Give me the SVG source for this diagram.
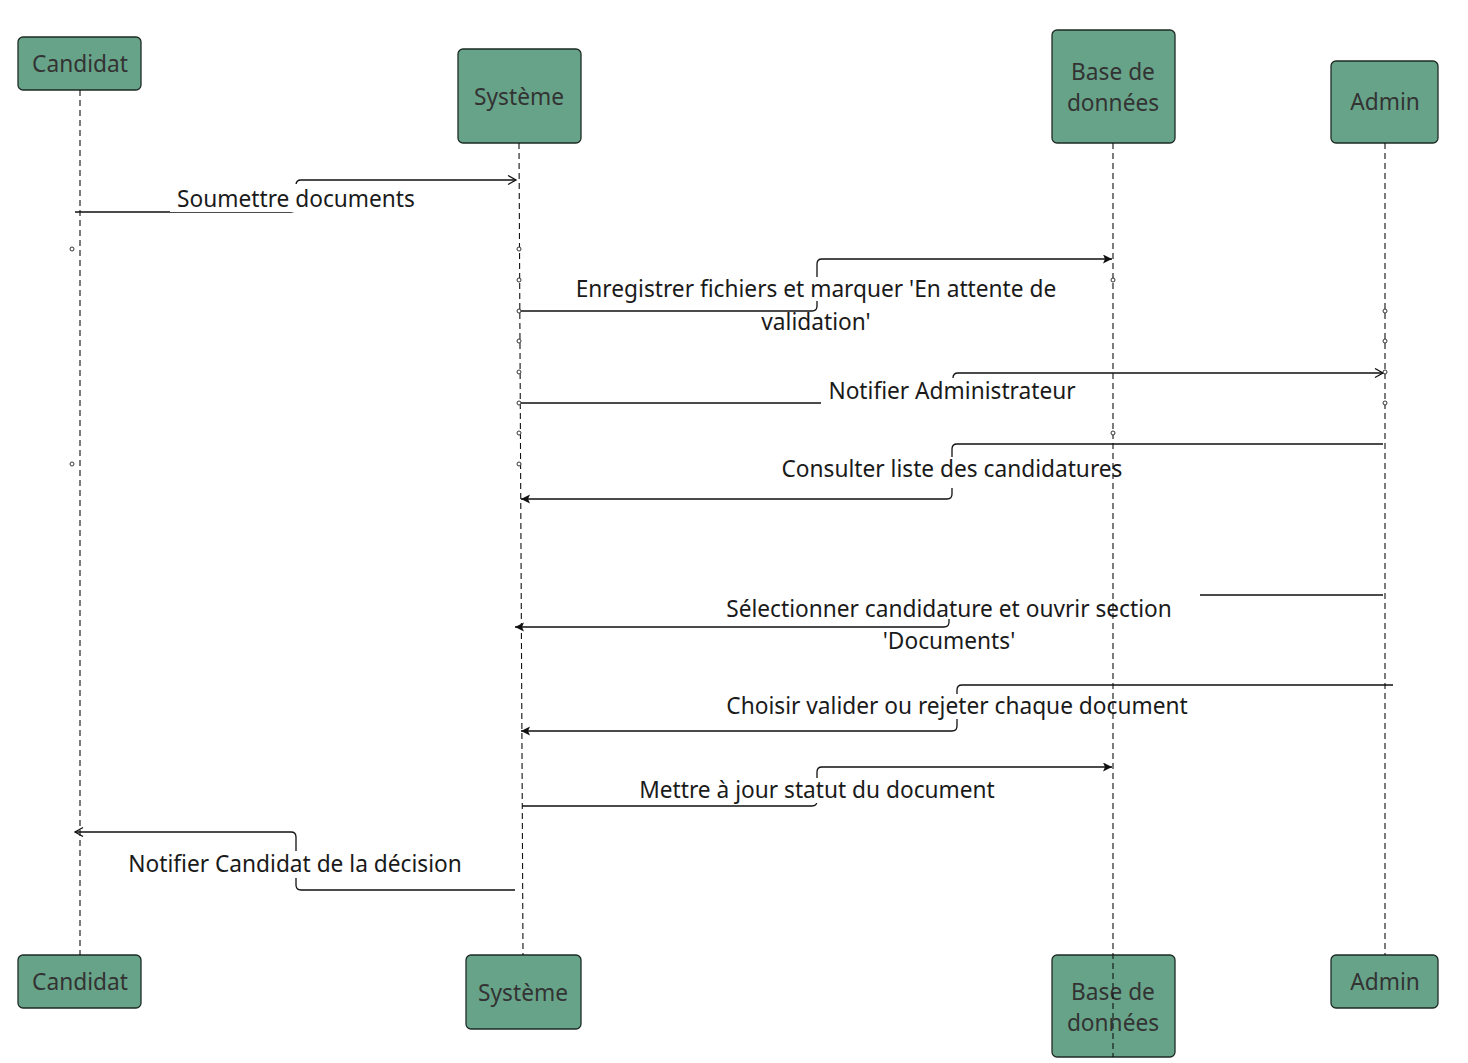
<svg xmlns="http://www.w3.org/2000/svg" width="1468" height="1063" viewBox="0 0 1468 1063">
  <style>
    .box { fill: #67a389; stroke: #1e2b25; stroke-width: 1.3; }
    .ntxt { font-family: "Noto Sans", "Open Sans", sans-serif; font-size: 22.7px; fill: #333333; text-anchor: middle; dominant-baseline: central; }
    .ltxt { font-family: "Noto Sans", "Open Sans", sans-serif; font-size: 22.7px; fill: #1a1a1a; text-anchor: middle; dominant-baseline: central; }
    .msg { fill: none; stroke: #111111; stroke-width: 1.3; }
    .lbg { fill: #ffffff; }
    .life { fill: none; stroke: #111111; stroke-width: 1.1; stroke-dasharray: 6 4; }
    .dot { fill: #ffffff; stroke: #333333; stroke-width: 1; }
  </style>
  <defs>
    <marker id="open" markerUnits="userSpaceOnUse" markerWidth="11" markerHeight="11" refX="9" refY="5" orient="auto">
      <path d="M1,0.5 L9,5 L1,9.5" fill="none" stroke="#111111" stroke-width="1.3"/>
    </marker>
    <marker id="filled" markerUnits="userSpaceOnUse" markerWidth="11" markerHeight="11" refX="9" refY="4.5" orient="auto">
      <path d="M0,0 L9,4.5 L0,9 L2,4.5 z" fill="#111111"/>
    </marker>
  </defs>

  <!-- messages -->
  <g id="connectors">
    <path class="msg" d="M75,212 H291 Q296,212 296,207 V185 Q296,180 301,180 H516" marker-end="url(#open)"/>
    <path class="msg" d="M519,311 H812 Q817,311 817,306 V264 Q817,259 822,259 H1112" marker-end="url(#filled)"/>
    <path class="msg" d="M519,403 H948 Q953,403 953,398 V378 Q953,373 958,373 H1383" marker-end="url(#open)"/>
    <path class="msg" d="M1383,444 H957 Q952,444 952,449 V494 Q952,499 947,499 H521" marker-end="url(#filled)"/>
    <path class="msg" d="M1383,595 H954 Q949,595 949,600 V622 Q949,627 944,627 H515" marker-end="url(#filled)"/>
    <path class="msg" d="M1393,685 H962 Q957,685 957,690 V726 Q957,731 952,731 H521" marker-end="url(#filled)"/>
    <path class="msg" d="M522,806 H812 Q817,806 817,801 V772 Q817,767 822,767 H1112" marker-end="url(#filled)"/>
    <path class="msg" d="M515,890 H301 Q296,890 296,885 V837 Q296,832 291,832 H75" marker-end="url(#open)"/>
  </g>

  <!-- message labels -->
  <g id="labels">
    <rect class="lbg" x="170" y="184" width="250" height="28"/>
    <text class="ltxt" x="296" y="198">Soumettre documents</text>

    <rect class="lbg" x="570" y="277" width="493" height="24"/>
    <text class="ltxt" x="816" y="288">Enregistrer fichiers et marquer 'En attente de</text>
    <text class="ltxt" x="816" y="321">validation'</text>

    <rect class="lbg" x="821" y="378" width="260" height="26"/>
    <text class="ltxt" x="952" y="390">Notifier Administrateur</text>

    <rect class="lbg" x="776" y="457" width="352" height="31"/>
    <text class="ltxt" x="952" y="468">Consulter liste des candidatures</text>

    <rect class="lbg" x="720" y="594" width="480" height="25"/>
    <text class="ltxt" x="949" y="608">Sélectionner candidature et ouvrir section</text>
    <text class="ltxt" x="949" y="640">'Documents'</text>

    <rect class="lbg" x="720" y="694" width="474" height="25"/>
    <text class="ltxt" x="957" y="705">Choisir valider ou rejeter chaque document</text>

    <rect class="lbg" x="634" y="778" width="366" height="25"/>
    <text class="ltxt" x="817" y="789">Mettre à jour statut du document</text>

    <rect class="lbg" x="123" y="851" width="344" height="27"/>
    <text class="ltxt" x="295" y="863">Notifier Candidat de la décision</text>
  </g>

  <!-- participants -->
  <g id="candidat-top">
    <rect class="box" x="18" y="37" width="123" height="53" rx="5"/>
    <text class="ntxt" x="80" y="63">Candidat</text>
  </g>
  <g id="systeme-top">
    <rect class="box" x="458" y="49" width="123" height="94" rx="5"/>
    <text class="ntxt" x="519" y="96">Système</text>
  </g>
  <g id="bdd-top">
    <rect class="box" x="1052" y="30" width="123" height="113" rx="5"/>
    <text class="ntxt" x="1113" y="71">Base de</text>
    <text class="ntxt" x="1113" y="102">données</text>
  </g>
  <g id="admin-top">
    <rect class="box" x="1331" y="61" width="107" height="82" rx="5"/>
    <text class="ntxt" x="1385" y="101">Admin</text>
  </g>

  <g id="candidat-bottom">
    <rect class="box" x="18" y="955" width="123" height="53" rx="5"/>
    <text class="ntxt" x="80" y="981">Candidat</text>
  </g>
  <g id="systeme-bottom">
    <rect class="box" x="466" y="955" width="115" height="74" rx="5"/>
    <text class="ntxt" x="523" y="992">Système</text>
  </g>
  <g id="bdd-bottom">
    <rect class="box" x="1052" y="955" width="123" height="102" rx="5"/>
    <text class="ntxt" x="1113" y="991">Base de</text>
    <text class="ntxt" x="1113" y="1022">données</text>
  </g>
  <g id="admin-bottom">
    <rect class="box" x="1331" y="955" width="107" height="53" rx="5"/>
    <text class="ntxt" x="1385" y="981">Admin</text>
  </g>

  <!-- lifelines -->
  <g id="lifelines">
    <line class="life" x1="80" y1="90" x2="80" y2="955"/>
    <line class="life" x1="519" y1="143" x2="523" y2="955"/>
    <line class="life" x1="1113" y1="143" x2="1113" y2="1057"/>
    <line class="life" x1="1385" y1="143" x2="1385" y2="955"/>
  </g>

  <!-- activation points -->
  <g id="points">
    <circle class="dot" cx="72" cy="249" r="2"/>
    <circle class="dot" cx="72" cy="464" r="2"/>
    <circle class="dot" cx="519" cy="249" r="2"/>
    <circle class="dot" cx="519" cy="280" r="2"/>
    <circle class="dot" cx="519" cy="311" r="2"/>
    <circle class="dot" cx="519" cy="341" r="2"/>
    <circle class="dot" cx="519" cy="372" r="2"/>
    <circle class="dot" cx="519" cy="403" r="2"/>
    <circle class="dot" cx="519" cy="433" r="2"/>
    <circle class="dot" cx="519" cy="464" r="2"/>
    <circle class="dot" cx="1113" cy="280" r="2"/>
    <circle class="dot" cx="1113" cy="433" r="2"/>
    <circle class="dot" cx="1385" cy="311" r="2"/>
    <circle class="dot" cx="1385" cy="341" r="2"/>
    <circle class="dot" cx="1385" cy="372" r="2"/>
    <circle class="dot" cx="1385" cy="403" r="2"/>
  </g>
</svg>
